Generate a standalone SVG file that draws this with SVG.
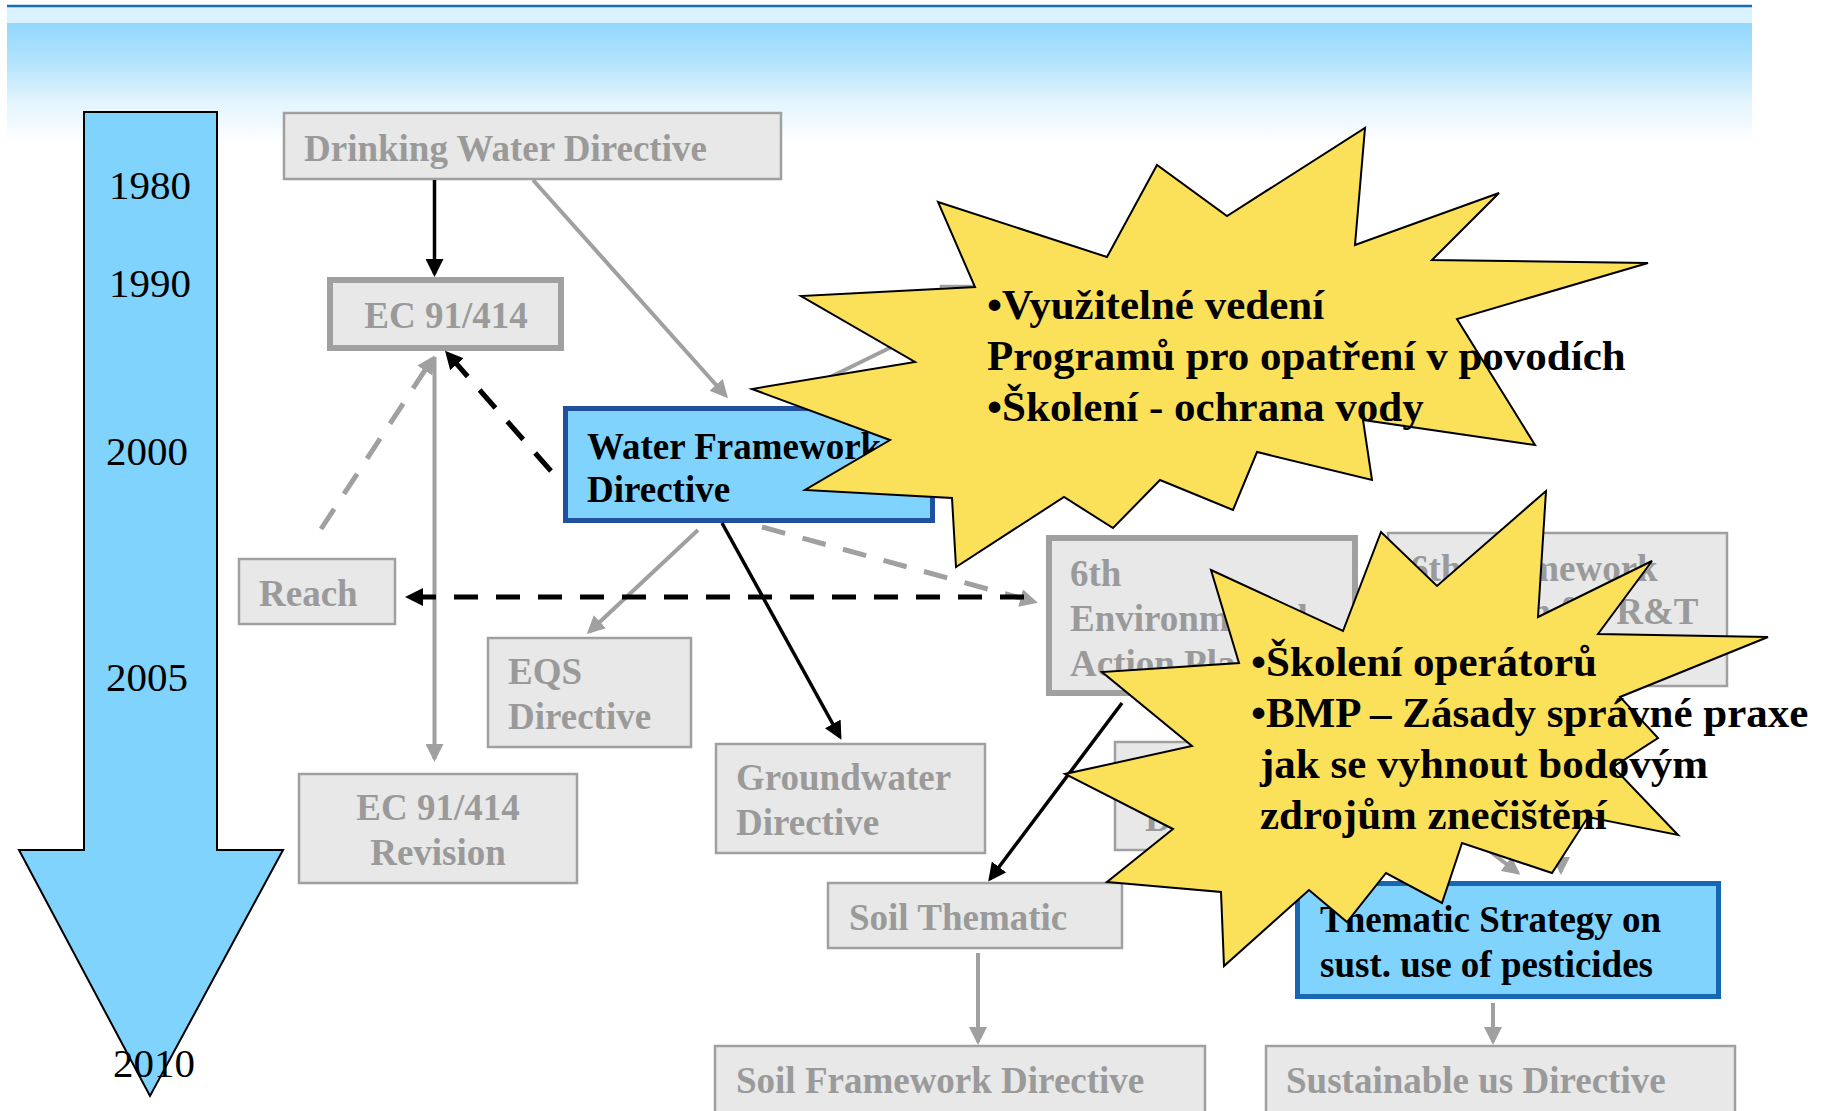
<svg xmlns="http://www.w3.org/2000/svg" width="1825" height="1111" viewBox="0 0 1825 1111">
<defs>
<linearGradient id="band" x1="0" y1="0" x2="0" y2="1">
<stop offset="0" stop-color="#86d3fd"/>
<stop offset="0.4" stop-color="#b3e3fd"/>
<stop offset="0.7" stop-color="#e4f5fe"/>
<stop offset="1" stop-color="#ffffff"/>
</linearGradient>
<marker id="ahg" markerUnits="userSpaceOnUse" markerWidth="18" markerHeight="18" viewBox="0 0 18 18" refX="15" refY="9" orient="auto"><path d="M0,0 L18,9 L0,18 z" fill="#a0a0a0"/></marker>
<marker id="ahb" markerUnits="userSpaceOnUse" markerWidth="18" markerHeight="18" viewBox="0 0 18 18" refX="15" refY="9" orient="auto"><path d="M0,0 L18,9 L0,18 z" fill="#000"/></marker>
</defs>
<style>
.box{fill:#e8e8e8;stroke:#a0a0a0;stroke-width:2.5}
.thick{stroke-width:6}
.wfd{fill:#80d3fd;stroke:#21509f;stroke-width:5}
.tsp{fill:#80d3fd;stroke:#1767b5;stroke-width:5}
.gt{font-family:"Liberation Serif","Times New Roman",serif;font-weight:bold;font-size:37px;fill:#9a9a9a}
.bt{font-family:"Liberation Serif","Times New Roman",serif;font-weight:bold;font-size:37px;fill:#000}
.yr{font-family:"Liberation Serif","Times New Roman",serif;font-size:41px;fill:#000}
.star{fill:#fbe05a;stroke:#000;stroke-width:2;stroke-linejoin:miter}
.st{font-family:"Liberation Serif","Times New Roman",serif;font-weight:bold;font-size:43px;fill:#000}
.cg{stroke:#a0a0a0;stroke-width:4;fill:none}
.cgd{stroke:#a0a0a0;stroke-width:5;fill:none;stroke-dasharray:24 18}
.cb{stroke:#000;stroke-width:3.5;fill:none}
.cbd{stroke:#000;stroke-width:5;fill:none;stroke-dasharray:24 18}
</style>

<g id="header">
<rect x="7" y="7" width="1745" height="137" fill="url(#band)"/>
<rect x="7" y="7" width="1745" height="16" fill="#d9f2fd"/>
<line x1="7" y1="6" x2="1752" y2="6" stroke="#1a6cb8" stroke-width="2.5"/>
</g>

<g id="timeline">
<polygon points="84,112 217,112 217,850 283,850 150,1096 19,850 84,850" fill="#80d3fd" stroke="#000" stroke-width="2"/>
<text class="yr" x="109" y="199">1980</text>
<text class="yr" x="109" y="297">1990</text>
<text class="yr" x="106" y="465">2000</text>
<text class="yr" x="106" y="691">2005</text>
<text class="yr" x="113" y="1077">2010</text>
</g>

<g id="node-hidden1"><rect class="box" x="941" y="286" width="260" height="90"/></g>

<g id="node-dwd"><rect class="box" x="284" y="113" width="497" height="66"/><text class="gt" x="304" y="160.5">Drinking Water Directive</text></g>
<g id="node-ec"><rect class="box thick" x="330" y="280" width="231" height="68"/><text class="gt" x="446" y="328" text-anchor="middle">EC 91/414</text></g>
<g id="node-wfd"><rect class="wfd" x="565.5" y="408.5" width="367" height="112"/><text class="bt" x="587" y="459">Water Framework</text><text class="bt" x="587" y="502">Directive</text></g>
<g id="node-reach"><rect class="box" x="239" y="559" width="156" height="65"/><text class="gt" x="259" y="606">Reach</text></g>
<g id="node-eqs"><rect class="box" x="488" y="638" width="203" height="109"/><text class="gt" x="508" y="684">EQS</text><text class="gt" x="508" y="729">Directive</text></g>
<g id="node-ecrev"><rect class="box" x="299" y="774" width="278" height="109"/><text class="gt" x="438" y="820" text-anchor="middle">EC 91/414</text><text class="gt" x="438" y="865" text-anchor="middle">Revision</text></g>
<g id="node-gw"><rect class="box" x="716" y="744" width="269" height="109"/><text class="gt" x="736" y="790">Groundwater</text><text class="gt" x="736" y="835">Directive</text></g>
<g id="node-eap"><rect class="box thick" x="1049" y="538" width="306" height="155"/><text class="gt" x="1070" y="586">6th</text><text class="gt" x="1070" y="631">Environmental</text><text class="gt" x="1070" y="676">Action Plan</text></g>
<g id="node-fp"><rect class="box" x="1388" y="533" width="339" height="153"/><text class="gt" x="1410" y="581">6th Framework</text><text class="gt" x="1410" y="624">Program for R&amp;T</text></g>
<g id="node-hidden2"><rect class="box" x="1115" y="742" width="240" height="108"/><text class="gt" x="1145" y="831">D</text></g>
<g id="node-soilth"><rect class="box" x="828" y="883" width="294" height="65"/><text class="gt" x="849" y="930">Soil Thematic</text></g>
<g id="node-tsp"><rect class="tsp" x="1297.5" y="883.5" width="421" height="113"/><text class="bt" x="1320" y="932">Thematic Strategy on</text><text class="bt" x="1320" y="977">sust. use of pesticides</text></g>
<g id="node-sfd"><rect class="box" x="715" y="1046" width="490" height="80"/><text class="gt" x="736" y="1093">Soil Framework Directive</text></g>
<g id="node-sud"><rect class="box" x="1266" y="1046" width="469" height="80"/><text class="gt" x="1286" y="1093">Sustainable us Directive</text></g>

<g id="connectors">
<line class="cb" x1="434.5" y1="180" x2="434.5" y2="274" marker-end="url(#ahb)"/>
<line class="cg" x1="533" y1="180" x2="726" y2="396" marker-end="url(#ahg)"/>
<line class="cbd" x1="551" y1="471" x2="447" y2="353" marker-end="url(#ahb)"/>
<line class="cgd" x1="321" y1="529" x2="433" y2="358" marker-end="url(#ahg)"/>
<line class="cg" x1="434.5" y1="357" x2="434.5" y2="759" marker-end="url(#ahg)"/>
<line class="cg" x1="698" y1="530" x2="589" y2="632" marker-end="url(#ahg)"/>
<line class="cb" x1="722" y1="523" x2="840" y2="737" marker-end="url(#ahb)"/>
<line class="cgd" x1="762" y1="527" x2="1035" y2="602" marker-end="url(#ahg)"/>
<line class="cbd" x1="1024" y1="597" x2="408" y2="597" marker-end="url(#ahb)"/>
<line class="cg" x1="810" y1="387" x2="920" y2="333" stroke-width="5"/>
<line class="cb" x1="1122" y1="703" x2="990" y2="879" marker-end="url(#ahb)"/>
<line class="cg" x1="978" y1="953" x2="978" y2="1042" marker-end="url(#ahg)"/>
<line class="cg" x1="1493" y1="1003" x2="1493" y2="1042" marker-end="url(#ahg)"/>
<line class="cg" x1="1561" y1="827" x2="1561" y2="846" stroke-width="5"/>
<line class="cg" x1="1561" y1="858" x2="1561" y2="872" marker-end="url(#ahg)"/>
<line class="cg" x1="1470" y1="836" x2="1518" y2="873" marker-end="url(#ahg)"/>
</g>

<g id="callout1">
<polygon class="star" points="938,202 1107,257 1157,165 1227,216 1365,128 1355,245 1499,193 1432,260 1648,263 1457,319 1535,445 1363,420 1372,480 1257,452 1233,510 1160,480 1113,528 1064,497 956,567 952,498 805,490 890,440 752,389 915,362 801,296 975,287"/>
<text class="st" x="987" y="319">•Využitelné vedení</text>
<text class="st" x="987" y="370">Programů pro opatření v povodích</text>
<text class="st" x="987" y="421">•Školení - ochrana vody</text>
</g>

<g id="callout2">
<polygon class="star" points="1211,570 1343,631 1381,532 1437,586 1546,491 1538,617 1652,561 1598,634 1768,637 1620,697 1658,738 1613,767 1678,835 1588,817 1552,873 1462,843 1442,903 1386,873 1347,922 1309,890 1224,966 1221,892 1107,882 1173,829 1065,774 1192,746 1102,672 1239,663"/>
<text class="st" x="1251" y="676">•Školení operátorů</text>
<text class="st" x="1251" y="727">•BMP – Zásady správné praxe</text>
<text class="st" x="1260" y="778">jak se vyhnout bodovým</text>
<text class="st" x="1260" y="829">zdrojům znečištění</text>
</g>
</svg>
